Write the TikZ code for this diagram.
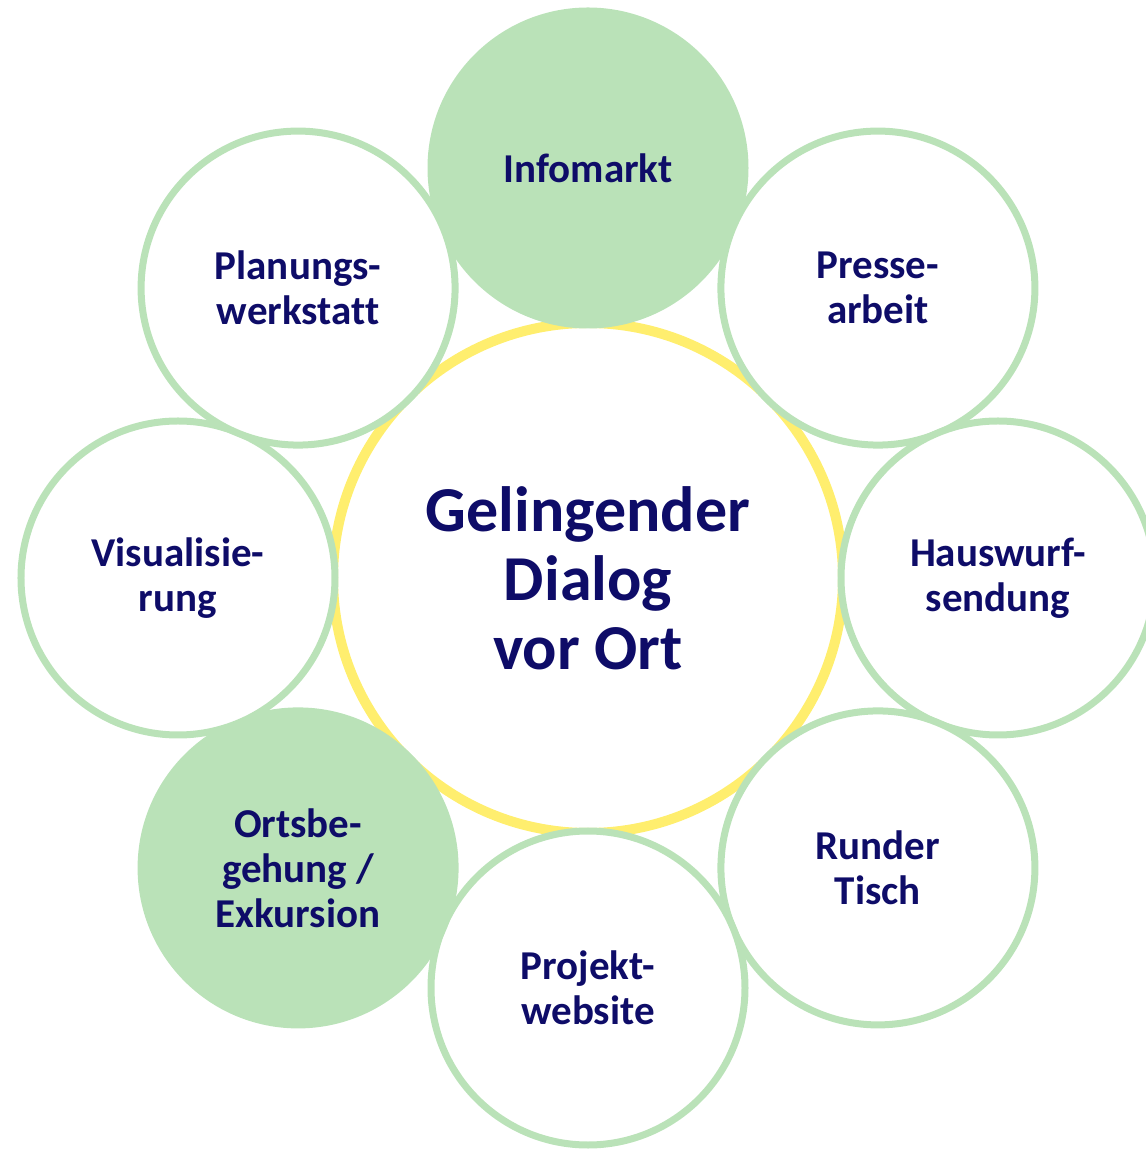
\documentclass[tikz,border=0pt]{standalone}
\usepackage{fontspec}
\setmainfont{Carlito}[Ligatures=NoCommon]
\definecolor{dialoggreen}{RGB}{186,226,184}
\definecolor{dialogyellow}{RGB}{255,238,110}
\definecolor{dialognavy}{RGB}{14,12,104}
\tikzset{
  methode/.style={circle, draw=dialoggreen, line width=3.5pt, fill=white,
    minimum size=157pt, inner sep=0pt, align=center, text=dialognavy,
    font=\bfseries\fontsize{20.5pt}{22.5pt}\selectfont},
  betont/.style={methode, fill=dialoggreen},
  mitte/.style={circle, draw=dialogyellow, line width=5pt, minimum size=255pt,
    inner sep=0pt, align=center, text=dialognavy,
    font=\bfseries\fontsize{32pt}{34.5pt}\selectfont}
}
\begin{document}
\begin{tikzpicture}
  \useasboundingbox (-294pt,-285.5pt) rectangle (278.5pt,289pt);
  \node[mitte] (dialog) at (0,0) {Gelingender\\Dialog\\vor Ort};
  % Methoden rund um den Dialog
  \foreach \name/\winkel/\stil/\beschriftung in {
      infomarkt/90/betont/{Infomarkt},
      presse/45/methode/{Presse-\\arbeit},
      hauswurf/0/methode/{Hauswurf-\\sendung},
      runder/-45/methode/{Runder\\Tisch},
      projekt/-90/methode/{Projekt-\\website},
      ortsbe/-135/betont/{Ortsbe-\\gehung /\\Exkursion},
      visual/180/methode/{Visualisie-\\rung},
      planung/135/methode/{Planungs-\\werkstatt}}
    \node[\stil] (\name) at (\winkel:205pt) {\beschriftung};
\end{tikzpicture}
\end{document}
